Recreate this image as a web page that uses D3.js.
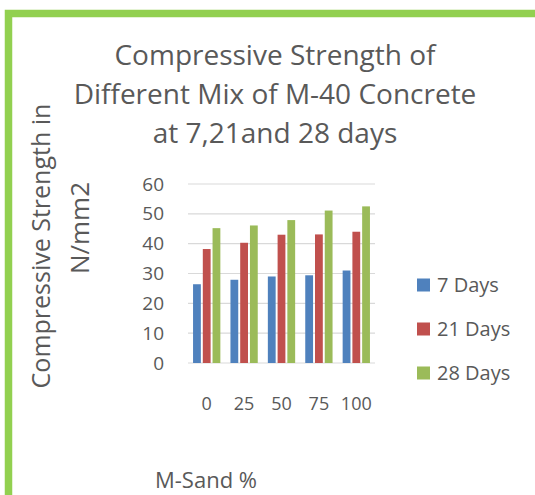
<!DOCTYPE html>
<html>
<head>
<meta charset="utf-8">
<script src="https://cdn.jsdelivr.net/npm/d3@7"></script>
<style>
  html, body { margin: 0; padding: 0; background: #fff; }
  svg { display: block; font-family: "Open Sans", "Noto Sans", sans-serif; }
</style>
</head>
<body>
<svg id="chart" width="535" height="495"></svg>
<script>
// M-Sand replacement levels and compressive strength (N/mm2) per curing age
const categories = ["0", "25", "50", "75", "100"];
const seriesNames = ["7 Days", "21 Days", "28 Days"];
const days7 = [26.4, 27.9, 29.0, 29.4, 31.0];
const days21 = [38.2, 40.3, 43.0, 43.1, 44.0];
const days28 = [45.2, 46.1, 47.9, 51.1, 52.5];
const yTicks = [0, 10, 20, 30, 40, 50, 60];
const colors = ["#4f81bd", "#c0504d", "#9bbb59"];

const seriesValues = [days7, days21, days28];
const textColor = "#595959";

const svg = d3.select("#chart");

// Outer frame border (green)
svg.append("rect")
  .attr("x", 8.5).attr("y", 13.5)
  .attr("width", 560).attr("height", 520)
  .attr("fill", "none")
  .attr("stroke", "#92d050")
  .attr("stroke-width", 7.5);

const plot = { left: 188, right: 375, top: 184, bottom: 363 };

const x0 = d3.scaleBand()
  .domain(categories)
  .range([plot.left, plot.right])
  .paddingInner(0.27)
  .paddingOuter(0.135);

const x1 = d3.scaleBand()
  .domain(seriesNames)
  .range([0, x0.bandwidth()])
  .paddingInner(0.2);

const y = d3.scaleLinear().domain([0, 60]).range([plot.bottom, plot.top]);

// Gridlines
svg.append("g")
  .selectAll("line")
  .data(yTicks)
  .join("line")
  .attr("x1", plot.left).attr("x2", plot.right)
  .attr("y1", d => y(d)).attr("y2", d => y(d))
  .attr("stroke", "#d9d9d9")
  .attr("stroke-width", 1.2);

// Y tick labels
svg.append("g")
  .selectAll("text")
  .data(yTicks)
  .join("text")
  .attr("x", 164)
  .attr("y", d => y(d))
  .attr("dy", "0.35em")
  .attr("text-anchor", "end")
  .attr("font-size", 19)
  .attr("fill", textColor)
  .text(d => d);

// Bars
const groups = svg.append("g")
  .selectAll("g")
  .data(categories)
  .join("g")
  .attr("transform", d => `translate(${x0(d)},0)`);

groups.selectAll("rect")
  .data((d, i) => seriesNames.map((s, j) => ({ s, v: seriesValues[j][i], j })))
  .join("rect")
  .attr("x", d => x1(d.s))
  .attr("width", x1.bandwidth())
  .attr("y", d => y(d.v))
  .attr("height", d => y(0) - y(d.v))
  .attr("fill", d => colors[d.j]);

// X tick labels
svg.append("g")
  .selectAll("text")
  .data(categories)
  .join("text")
  .attr("x", d => x0(d) + x0.bandwidth() / 2)
  .attr("y", 410)
  .attr("text-anchor", "middle")
  .attr("font-size", 18)
  .attr("fill", textColor)
  .text(d => d);

// Title
const titleLines = ["Compressive Strength of", "Different Mix of M-40 Concrete", "at 7,21and 28 days"];
svg.append("g")
  .selectAll("text")
  .data(titleLines)
  .join("text")
  .attr("x", 275)
  .attr("y", (d, i) => 65 + i * 39)
  .attr("text-anchor", "middle")
  .attr("font-size", 28)
  .attr("fill", textColor)
  .text(d => d);

// Y axis title (two rotated lines)
const yTitle = svg.append("g").attr("transform", "rotate(-90)");
yTitle.append("text")
  .attr("x", -246).attr("y", 50)
  .attr("text-anchor", "middle")
  .attr("font-size", 25)
  .attr("fill", textColor)
  .text("Compressive Strength in");
yTitle.append("text")
  .attr("x", -228).attr("y", 89)
  .attr("text-anchor", "middle")
  .attr("font-size", 26)
  .attr("fill", textColor)
  .text("N/mm2");

// X axis title
svg.append("text")
  .attr("x", 155).attr("y", 488)
  .attr("font-size", 22)
  .attr("fill", textColor)
  .text("M-Sand %");

// Legend
const legend = svg.append("g")
  .selectAll("g")
  .data(seriesNames)
  .join("g")
  .attr("transform", (d, i) => `translate(417,${285 + i * 44})`);
legend.append("rect")
  .attr("x", 0).attr("y", -6.5)
  .attr("width", 13).attr("height", 13)
  .attr("fill", (d, i) => colors[i]);
legend.append("text")
  .attr("x", 20).attr("y", 0)
  .attr("dy", "0.35em")
  .attr("font-size", 20)
  .attr("fill", textColor)
  .text(d => d);
</script>
</body>
</html>
